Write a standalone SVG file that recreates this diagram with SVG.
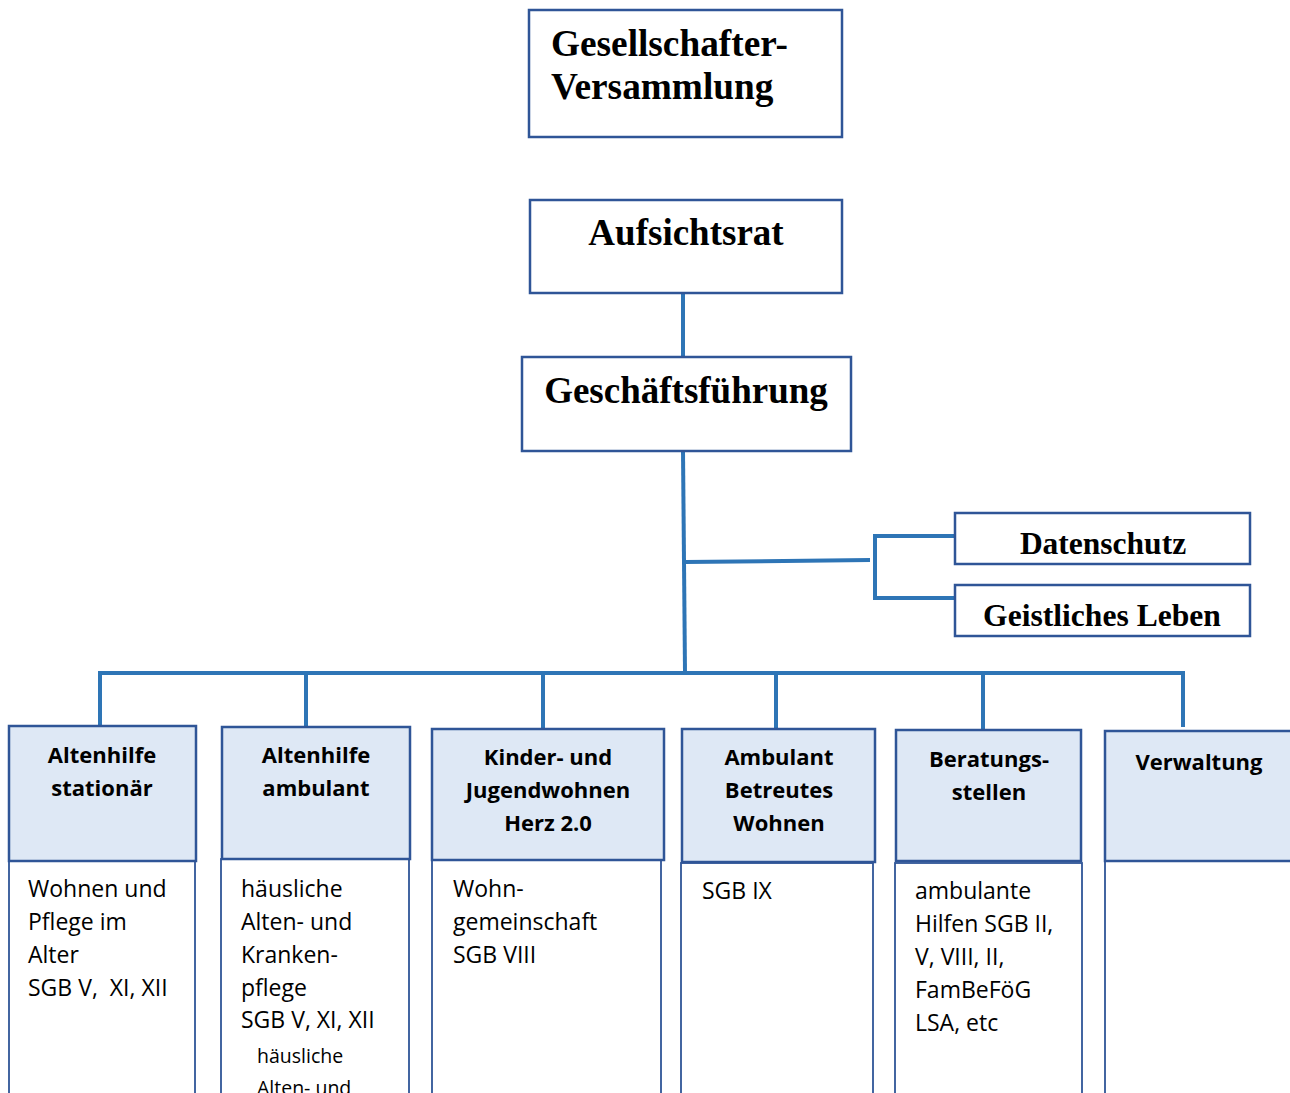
<svg xmlns="http://www.w3.org/2000/svg" width="1290" height="1093" viewBox="0 0 1290 1093">
<style>
.top{fill:#fff;stroke:#2F5597;stroke-width:2.5}
.hd{fill:#DEE8F5;stroke:#2F5597;stroke-width:2.5}
.bd{fill:#fff;stroke:#2F5597;stroke-width:1.8}
.ser{font-family:"Liberation Serif","Times New Roman",serif;font-weight:bold;fill:#000}
.hb{font-family:"Open Sans","Noto Sans",sans-serif;font-weight:bold;font-size:22px;fill:#000;text-anchor:middle}
.bt{font-family:"Open Sans","Noto Sans",sans-serif;font-size:23px;fill:#000}
.sm{font-family:"Open Sans","Noto Sans",sans-serif;font-size:19.5px;fill:#000}
.con{fill:none;stroke:#2E75B6;stroke-width:4;stroke-linejoin:miter}
</style>
<rect width="1290" height="1093" fill="#fff"/>
<g id="connectors">
<path class="con" d="M683 293 L683 357"/>
<path class="con" d="M683 451 L685 672"/>
<path class="con" d="M685 562 L870 560"/>
<path class="con" d="M955 536 L875 536 L875 598 L955 598"/>
<path class="con" d="M100 725 L100 673 L1183 673 L1183 727"/>
<path class="con" d="M306 673 L306 727"/>
<path class="con" d="M543 673 L543 729"/>
<path class="con" d="M776 673 L776 729"/>
<path class="con" d="M983 673 L983 730"/>
</g>
<g id="gesellschafter">
<rect class="top" x="529" y="10" width="313" height="127"/>
<text class="ser" font-size="37.3" x="551" y="56">Gesellschafter-</text>
<text class="ser" font-size="37.3" x="551" y="99">Versammlung</text>
</g>
<g id="aufsichtsrat">
<rect class="top" x="530" y="200" width="312" height="93"/>
<text class="ser" font-size="37" x="686" y="245" text-anchor="middle">Aufsichtsrat</text>
</g>
<g id="geschaeftsfuehrung">
<rect class="top" x="522" y="357" width="329" height="94"/>
<text class="ser" font-size="37" x="686" y="403" text-anchor="middle">Geschäftsführung</text>
</g>
<g id="datenschutz">
<rect class="top" x="955" y="513" width="295" height="51"/>
<text class="ser" font-size="31.5" x="1103" y="554" text-anchor="middle">Datenschutz</text>
</g>
<g id="geistliches">
<rect class="top" x="955" y="585" width="295" height="51"/>
<text class="ser" font-size="31.6" x="1102" y="626" text-anchor="middle">Geistliches Leben</text>
</g>
<g id="altenhilfe-stationaer">
<rect class="bd" x="9" y="861" width="186" height="245"/>
<rect class="hd" x="9" y="726" width="187" height="135"/>
<text class="hb" x="102" y="763">Altenhilfe</text>
<text class="hb" x="102" y="796">stationär</text>
<text class="bt" x="28" y="897">Wohnen und</text>
<text class="bt" x="28" y="930">Pflege im</text>
<text class="bt" x="28" y="963">Alter</text>
<text class="bt" x="28" y="996" xml:space="preserve">SGB V,  XI, XII</text>
</g>
<g id="altenhilfe-ambulant">
<rect class="bd" x="221" y="859" width="188" height="245"/>
<rect class="hd" x="222" y="727" width="188" height="132"/>
<text class="hb" x="316" y="763">Altenhilfe</text>
<text class="hb" x="316" y="796">ambulant</text>
<text class="bt" x="241" y="897">häusliche</text>
<text class="bt" x="241" y="930">Alten- und</text>
<text class="bt" x="241" y="963">Kranken-</text>
<text class="bt" x="241" y="996">pflege</text>
<text class="bt" x="241" y="1028">SGB V, XI, XII</text>
<text class="sm" x="257" y="1063">häusliche</text>
<text class="sm" x="257" y="1095">Alten- und</text>
</g>
<g id="kinder-jugend">
<rect class="bd" x="432" y="860" width="229" height="245"/>
<rect class="hd" x="432" y="729" width="232" height="131"/>
<text class="hb" x="548" y="765">Kinder- und</text>
<text class="hb" x="548" y="798">Jugendwohnen</text>
<text class="hb" x="548" y="831">Herz 2.0</text>
<text class="bt" x="453" y="897">Wohn-</text>
<text class="bt" x="453" y="930">gemeinschaft</text>
<text class="bt" x="453" y="963">SGB VIII</text>
</g>
<g id="ambulant-betreutes-wohnen">
<rect class="bd" x="681" y="863" width="192" height="245"/>
<rect class="hd" x="682" y="729" width="193" height="133"/>
<text class="hb" x="779" y="765">Ambulant</text>
<text class="hb" x="779" y="798">Betreutes</text>
<text class="hb" x="779" y="831">Wohnen</text>
<text class="bt" x="702" y="899">SGB IX</text>
</g>
<g id="beratungsstellen">
<rect class="bd" x="895" y="863" width="187" height="245"/>
<rect class="hd" x="896" y="730" width="185" height="131"/>
<text class="hb" x="989" y="767">Beratungs-</text>
<text class="hb" x="989" y="800">stellen</text>
<text class="bt" x="915" y="899">ambulante</text>
<text class="bt" x="915" y="932">Hilfen SGB II,</text>
<text class="bt" x="915" y="965">V, VIII, II,</text>
<text class="bt" x="915" y="998">FamBeFöG</text>
<text class="bt" x="915" y="1031">LSA, etc</text>
</g>
<g id="verwaltung">
<rect class="bd" x="1105" y="861" width="200" height="245"/>
<rect class="hd" x="1105" y="731" width="200" height="130"/>
<text class="hb" x="1199" y="770">Verwaltung</text>
</g>
</svg>
